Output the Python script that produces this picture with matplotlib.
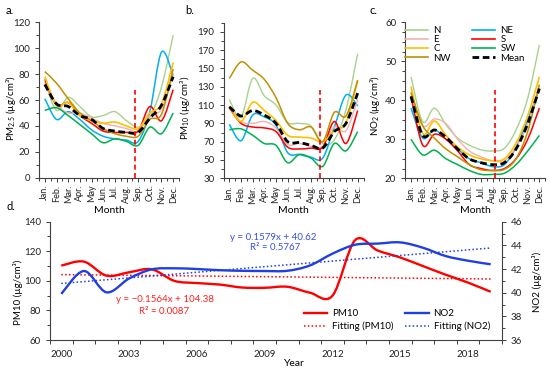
import numpy as np
import matplotlib
matplotlib.use("Agg")
import matplotlib.pyplot as plt
from matplotlib.path import Path
from matplotlib.patches import PathPatch
from matplotlib.lines import Line2D
from matplotlib.ticker import MultipleLocator, FixedLocator

plt.rcParams['font.family'] = ['Lato', 'DejaVu Sans']
plt.rcParams['mathtext.fontset'] = 'custom'
plt.rcParams['mathtext.rm'] = 'Lato'
plt.rcParams['mathtext.it'] = 'Lato:italic'
plt.rcParams['mathtext.bf'] = 'Lato:bold'

# ---------------- data ----------------
months = ["Jan.", "Feb.", "Mar.", "Apr.", "May", "Jun.", "Jul.", "Aug.",
          "Sep.", "Oct.", "Nov.", "Dec."]
stations = ["N", "NE", "E", "S", "C", "SW", "NW", "Mean"]

pm25_N = [74, 52, 62, 55, 47, 48, 51, 44, 39, 47, 70, 110]
pm25_NE = [61, 45, 51, 45, 37, 32, 30, 29, 28, 51, 97, 79]
pm25_E = [74, 57, 50, 50, 46, 42, 40, 38, 36, 48, 53, 80]
pm25_S = [76, 56, 58, 48, 42, 36, 35, 35, 36, 55, 44, 68]
pm25_C = [78, 56, 58, 48, 44, 42, 43, 40, 38, 50, 57, 89]
pm25_SW = [52, 54, 48, 41, 34, 27, 30, 28, 25, 39, 34, 50]
pm25_NW = [82, 73, 61, 50, 44, 38, 34, 32, 32, 45, 49, 84]
pm25_Mean = [72, 57, 55, 48, 45, 38, 36, 35, 35, 46, 56, 78]

pm10_N = [116, 97, 139, 120, 110, 91, 90, 87, 68, 72, 105, 166]
pm10_NE = [89, 71, 99, 97, 88, 58, 56, 53, 52, 86, 121, 109]
pm10_E = [108, 92, 90, 92, 85, 67, 68, 65, 65, 86, 82, 116]
pm10_S = [107, 90, 86, 85, 81, 64, 62, 63, 64, 92, 68, 104]
pm10_C = [109, 92, 113, 104, 93, 77, 75, 74, 70, 82, 91, 137]
pm10_SW = [83, 84, 77, 68, 66, 47, 56, 52, 43, 68, 60, 81]
pm10_NW = [139, 157, 148, 138, 118, 90, 83, 86, 70, 102, 98, 137]
pm10_Mean = [108, 98, 104, 99, 90, 70, 69, 66, 63, 81, 90, 123]

no2_N = [46, 34.5, 38, 33.7, 30.3, 28.5, 27.3, 27, 27.7, 32.4, 40.5, 54.2]
no2_NE = [38, 30.3, 32.4, 30, 27.5, 25, 24, 23, 23.5, 28, 35, 43]
no2_E = [42, 33.5, 35.2, 34, 30, 27, 25.5, 24.5, 24.5, 28, 34, 44]
no2_S = [41, 28.5, 31.3, 30, 27, 23.5, 22.5, 22, 22.5, 25, 30, 38]
no2_C = [43.5, 31.5, 34.7, 31, 28, 26, 25, 24.5, 25, 29, 36, 46]
no2_SW = [30, 26, 27.2, 25, 23.5, 22, 21, 21, 21.3, 23.5, 27, 31]
no2_NW = [42, 33.5, 30.3, 27.5, 25.5, 23.5, 22.2, 22, 22.3, 25, 32, 44]
no2_Mean = [41, 31, 32.4, 30.5, 27.5, 25, 24, 23.5, 24, 27.5, 34, 43]

pm25_ticks = [0, 20, 40, 60, 80, 100, 120]
pm10_ticks = [30, 50, 70, 90, 110, 130, 150, 170, 190]
no2_ticks = [20, 30, 40, 50, 60]

# month where the red dashed marker stands, and its height
marker_a = (8.69, 67.7)
marker_b = (8.77, 126.4)
marker_c = (8.17, 42.6)

years = list(range(2000, 2020))
pm10_annual = [110.3, 113, 103.5, 105.8, 107.8, 100, 98.5, 97.5, 95.5, 95.3,
               96, 92, 90, 127.5, 120.5, 115.8, 110, 104.2, 98.8, 92.6]
no2_annual = [39.9, 41.83, 40.03, 41.2, 41.97, 42.06, 42.0, 41.9, 41.85, 41.83,
              41.85, 42.3, 43.3, 44.05, 44.15, 44.25, 43.8, 43.1, 42.7, 42.4]
fit_pm10 = (-0.1564, 104.38)
fit_no2 = (0.1579, 40.62)

# ---------------- style ----------------
colors = {"N": "#A9D18E", "NE": "#00B0F0", "E": "#F4B0B0", "S": "#FF0000",
          "C": "#FFC000", "SW": "#00B050", "NW": "#BF9000", "Mean": "#000000"}
widths = {"N": 1.0, "NE": 1.1, "E": 1.0, "S": 1.1, "C": 1.2, "SW": 1.1,
          "NW": 1.1, "Mean": 2.0}
mean_dash = (0, (2.4, 1.3))
axc = "#404040"
FS = 7

W, H = 550, 370
fig = plt.figure(figsize=(W / 100, H / 100), dpi=100)


def fx(px):
    return px / W


def fy(py):
    return 1 - py / H


def smooth_path(x, y):
    x = np.asarray(x, float)
    y = np.asarray(y, float)
    n = len(x)
    verts = [(x[0], y[0])]
    codes = [Path.MOVETO]
    for i in range(n - 1):
        a = i - 1 if i > 0 else i
        d = i + 2 if i + 2 < n else i + 1
        c1 = (x[i] + (x[i + 1] - x[a]) / 6, y[i] + (y[i + 1] - y[a]) / 6)
        c2 = (x[i + 1] - (x[d] - x[i]) / 6, y[i + 1] - (y[d] - y[i]) / 6)
        verts += [c1, c2, (x[i + 1], y[i + 1])]
        codes += [Path.CURVE4] * 3
    return Path(verts, codes)


def draw_smooth(ax, x, y, color, lw, ls='-', zorder=2):
    patch = PathPatch(smooth_path(x, y), facecolor='none', edgecolor=color,
                      lw=lw, ls=ls, zorder=zorder, capstyle='butt',
                      joinstyle='round')
    ax.add_patch(patch)


def style_axes(ax):
    for s in ['top', 'right']:
        ax.spines[s].set_visible(False)
    for s in ['left', 'bottom']:
        ax.spines[s].set_color(axc)
        ax.spines[s].set_linewidth(0.8)
    ax.tick_params(which='both', direction='out', color=axc, width=0.7,
                   labelsize=FS, labelcolor='#222222')
    ax.tick_params(which='major', length=3)
    ax.tick_params(which='minor', length=2.5)


month_pos = np.arange(1, 13)


def monthly_panel(rect, series, ylim, yticks, minor, marker, ylabel,
                  ylabel_px, letter, letter_px):
    ax = fig.add_axes(rect)
    for name, vals in zip(stations, series):
        if name == "Mean":
            draw_smooth(ax, month_pos, vals, colors[name], widths[name],
                        ls=mean_dash, zorder=4)
        else:
            draw_smooth(ax, month_pos, vals, colors[name], widths[name])
    ax.plot([marker[0], marker[0]], [ylim[0], marker[1]], color='#FF0000',
            lw=1.2, ls=(0, (3, 2)), zorder=5, clip_on=False)
    ax.set_xlim(0.5, 12.5)
    ax.set_ylim(*ylim)
    ax.set_xticks(month_pos)
    ax.set_xticklabels(months, rotation=90, fontsize=6.5)
    ax.xaxis.set_minor_locator(FixedLocator(np.arange(0.5, 13, 1.0)))
    ax.yaxis.set_major_locator(FixedLocator(yticks))
    ax.yaxis.set_minor_locator(FixedLocator(
        np.arange(ylim[0], ylim[1] + 1e-6, minor)))
    style_axes(ax)
    ax.tick_params(axis='x', which='major', labelsize=6.5, pad=2)
    fig.text(fx(rect[0] * W + rect[2] * W / 2), fy(211), "Month",
             fontsize=FS + 0.5, ha='center', va='center')
    fig.text(fx(ylabel_px[0]), fy(ylabel_px[1]), ylabel, rotation=90,
             fontsize=FS, ha='center', va='center')
    fig.text(fx(letter_px[0]), fy(letter_px[1]), letter, fontsize=8,
             ha='left', va='center')
    return ax


ax_a = monthly_panel(
    [fx(39), fy(177.7), 140 / W, 155.4 / H],
    [pm25_N, pm25_NE, pm25_E, pm25_S, pm25_C, pm25_SW, pm25_NW, pm25_Mean],
    (0, 120), pm25_ticks, 10, marker_a, r"PM$_{2.5}$ (µg/cm³)", (11.5, 108),
    "a.", (6, 11))
ax_b = monthly_panel(
    [fx(223.5), fy(178.3), 140 / W, 155.7 / H],
    [pm10_N, pm10_NE, pm10_E, pm10_S, pm10_C, pm10_SW, pm10_NW, pm10_Mean],
    (30, 200), pm10_ticks, 10, marker_b, r"PM$_{10}$ (µg/cm³)", (185.5, 108),
    "b.", (185, 11))
ax_c = monthly_panel(
    [fx(405.2), fy(178.3), 140 / W, 156 / H],
    [no2_N, no2_NE, no2_E, no2_S, no2_C, no2_SW, no2_NW, no2_Mean],
    (20, 60), no2_ticks, 2.5, marker_c, r"NO$_{2}$ (µg/cm³)", (375.5, 106),
    "c.", (370, 10))

# legend for panel c (column-wise order)
order = ["N", "E", "C", "NW", "NE", "S", "SW", "Mean"]
handles = []
for name in order:
    if name == "Mean":
        handles.append(Line2D([], [], color='k', lw=2.0, ls=mean_dash))
    else:
        handles.append(Line2D([], [], color=colors[name], lw=1.2))
ax_c.legend(handles, order, ncol=2, fontsize=FS, frameon=False,
            loc='upper left', bbox_to_anchor=(fx(405), fy(26)),
            bbox_transform=fig.transFigure, borderpad=0,
            borderaxespad=0, handlelength=2.4, handletextpad=0.5,
            columnspacing=2.2, labelspacing=0.02)

# ---------------- panel d ----------------
ax_d = fig.add_axes([fx(50), fy(340), 452 / W, 118.3 / H])
ax_r = ax_d.twinx()
yr = np.array(years, float)
draw_smooth(ax_d, yr, pm10_annual, '#FF0000', 1.7, zorder=3)
xi = np.arange(1, len(years) + 1)
ax_d.plot(yr, fit_pm10[0] * xi + fit_pm10[1], color='#FF0000', lw=1.1,
          ls=(0, (1, 1.5)), zorder=2)
draw_smooth(ax_r, yr, no2_annual, '#1F3FE0', 1.7, zorder=3)
ax_r.plot(yr, fit_no2[0] * xi + fit_no2[1], color='#1F3FE0', lw=1.1,
          ls=(0, (1, 1.5)), zorder=2)

for ax in (ax_d, ax_r):
    ax.set_xlim(1999.5, 2019.5)
ax_d.set_ylim(60, 140)
ax_r.set_ylim(36, 46)
ax_d.yaxis.set_major_locator(MultipleLocator(20))
ax_d.yaxis.set_minor_locator(MultipleLocator(10))
ax_r.yaxis.set_major_locator(MultipleLocator(2))
ax_r.yaxis.set_minor_locator(MultipleLocator(1))
ax_d.set_xticks(years[::3])
ax_d.set_xticklabels([str(y) for y in years[::3]], fontsize=FS)
ax_d.xaxis.set_minor_locator(FixedLocator(np.arange(1999.5, 2020, 1.0)))
style_axes(ax_d)
ax_d.tick_params(axis='x', which='major', length=0, pad=7)
ax_d.tick_params(axis='x', which='minor', length=3)
for s in ['top', 'left', 'bottom']:
    ax_r.spines[s].set_visible(False)
ax_r.spines['right'].set_color(axc)
ax_r.spines['right'].set_linewidth(0.8)
ax_r.tick_params(which='both', direction='out', color=axc, width=0.7,
                 labelsize=FS, labelcolor='#222222')
ax_r.tick_params(which='major', length=3)
ax_r.tick_params(which='minor', length=2.5)

fig.text(fx(18), fy(292), "PM10 (µg/cm³)", rotation=90, fontsize=FS,
         ha='center', va='center')
fig.text(fx(537), fy(282), "NO2 (µg/cm³)", rotation=90, fontsize=FS,
         ha='center', va='center')
fig.text(fx(294), fy(363), "Year", fontsize=FS + 0.5, ha='center',
         va='center')
fig.text(fx(6), fy(206), "d.", fontsize=8, ha='left', va='center')

fig.text(fx(273.5), fy(237), "y = 0.1579x + 40.62", color='#3A4FE8',
         fontsize=FS, ha='center', va='center')
fig.text(fx(275), fy(248), "R² = 0.5767", color='#3A4FE8', fontsize=FS,
         ha='center', va='center')
fig.text(fx(165), fy(300), "y = −0.1564x + 104.38", color='#FF2020',
         fontsize=FS, ha='center', va='center')
fig.text(fx(164), fy(311), "R² = 0.0087", color='#FF2020', fontsize=FS,
         ha='center', va='center')

hd = [Line2D([], [], color='#FF0000', lw=1.7),
      Line2D([], [], color='#FF0000', lw=1.1, ls=(0, (1, 1.5))),
      Line2D([], [], color='#1F3FE0', lw=1.7),
      Line2D([], [], color='#1F3FE0', lw=1.1, ls=(0, (1, 1.5)))]
ld = ["PM10", "Fitting (PM10)", "NO2", "Fitting (NO2)"]
ax_r.legend(hd, ld, ncol=2, fontsize=FS, frameon=False, loc='upper left',
            bbox_to_anchor=(fx(304), fy(309)), bbox_transform=fig.transFigure,
            borderpad=0, borderaxespad=0, handlelength=2.4,
            handletextpad=0.5, columnspacing=1.2, labelspacing=0.35)

fig.savefig("out.png", dpi=100)
